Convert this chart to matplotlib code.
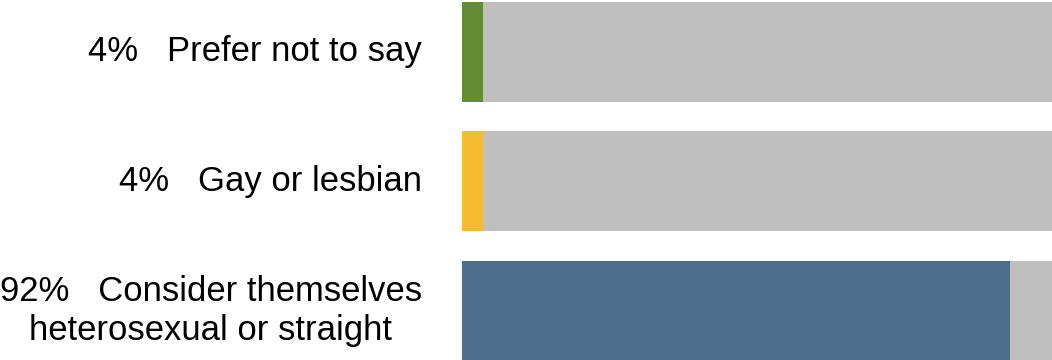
import matplotlib
matplotlib.use("Agg")
import matplotlib.pyplot as plt

plt.rcParams['font.family'] = ['Liberation Sans', 'DejaVu Sans']

# bottom to top
labels = ["92%   Consider themselves\nheterosexual or straight",
          "4%   Gay or lesbian",
          "4%   Prefer not to say"]
values = [92.9, 3.6, 3.6]
colors = ["#4e6f8c", "#f5bc33", "#628b33"]
total = 100

fig = plt.figure(figsize=(10.52, 3.6), dpi=100)
ax = fig.add_axes([462 / 1052, 0, 1 - 462 / 1052, 1])

ypos = list(range(len(values)))
ax.barh(ypos, [total] * len(values), height=0.772, color="#bfbfbf", lw=0)
ax.barh(ypos, values, height=0.772, color=colors, lw=0)

for y, lab in zip(ypos, labels):
    ax.text(-40 / 590, y, lab, transform=ax.get_yaxis_transform(),
            ha="right", va="center", multialignment="center",
            fontsize=24.9, color="black", linespacing=1.25)

ax.set_xlim(0, total)
ax.set_ylim(-0.378, 2.40)
ax.axis("off")

fig.savefig("out.png", dpi=100)
